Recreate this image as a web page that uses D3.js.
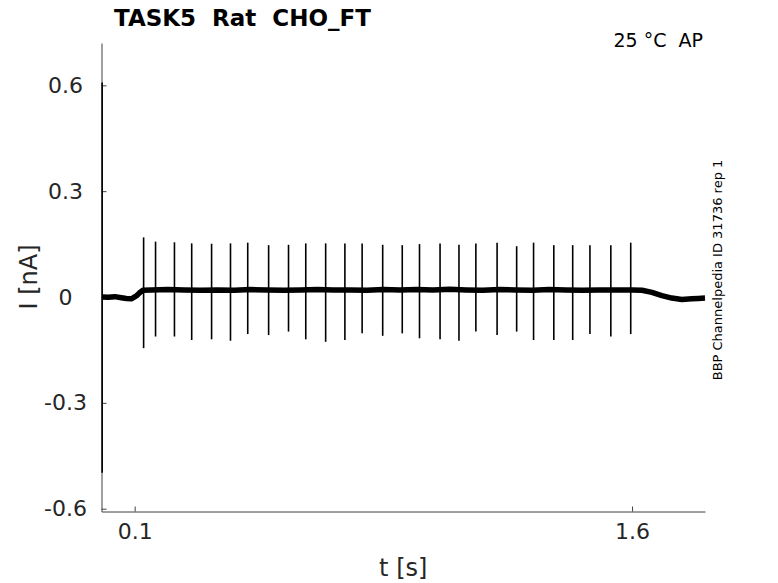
<!DOCTYPE html>
<html>
<head>
<meta charset="utf-8">
<script src="https://cdn.jsdelivr.net/npm/d3@7"></script>
<style>
  body { margin: 0; background: #fff; }
  svg { display: block; font-family: 'DejaVu Sans', sans-serif; }
  .axis path, .axis line { stroke: #404040; stroke-width: 1; }
  .axis text { fill: #262626; font-size: 22px; font-family: 'DejaVu Sans', sans-serif; }
</style>
</head>
<body>
<script>
// sample readings of the holding current (noisy band)
const baseT = [0.003, 0.02, 0.04, 0.06, 0.075, 0.09, 0.105, 0.115, 0.125, 0.15, 0.2, 0.25, 0.3, 0.35, 0.4,
  0.45, 0.5, 0.55, 0.6, 0.65, 0.7, 0.75, 0.8, 0.85, 0.9, 0.95, 1.0, 1.05, 1.1, 1.15, 1.2, 1.25, 1.3,
  1.35, 1.4, 1.45, 1.5, 1.55, 1.6, 1.63, 1.66, 1.69, 1.72, 1.75, 1.78, 1.8, 1.82]
const baseV = [0.0, -0.001, 0.001, -0.002, -0.004, -0.005, 0.003, 0.012, 0.019, 0.02, 0.021, 0.02, 0.019,
  0.02, 0.019, 0.021, 0.02, 0.019, 0.02, 0.021, 0.02, 0.02, 0.019, 0.021, 0.02, 0.021, 0.02, 0.022, 0.02,
  0.019, 0.021, 0.02, 0.019, 0.021, 0.02, 0.019, 0.02, 0.02, 0.02, 0.019, 0.013, 0.004, -0.003, -0.007,
  -0.005, -0.004, -0.003]

// action current spikes: time, peak and trough
const spikeT = [0.127, 0.163, 0.220, 0.272, 0.332, 0.389, 0.441, 0.504, 0.564, 0.616, 0.676, 0.734, 0.786,
  0.848, 0.907, 0.959, 1.021, 1.078, 1.129, 1.193, 1.252, 1.303, 1.364, 1.421, 1.473, 1.536, 1.596]
const spikePeak = [0.169, 0.157, 0.155, 0.152, 0.151, 0.152, 0.154, 0.147, 0.148, 0.152, 0.152, 0.152, 0.152,
  0.148, 0.147, 0.150, 0.152, 0.148, 0.152, 0.154, 0.144, 0.154, 0.147, 0.147, 0.147, 0.147, 0.154]
const spikeTrough = [-0.145, -0.112, -0.112, -0.122, -0.120, -0.124, -0.105, -0.108, -0.098, -0.120, -0.127,
  -0.122, -0.103, -0.110, -0.103, -0.117, -0.120, -0.124, -0.098, -0.108, -0.098, -0.122, -0.122, -0.122,
  -0.105, -0.112, -0.105]

// capacitive transient at the very start
const transientT = [0.002]
const transientPeak = [0.608]
const transientTrough = [-0.498]

const xTicks = [0.1, 1.6]
const yTicks = [-0.6, -0.3, 0, 0.3, 0.6]

const W = 778, H = 583
const margin = {top: 43, left: 101.5, right: 73, bottom: 71.5}
const width = W - margin.left - margin.right
const height = H - margin.top - margin.bottom

const svg = d3.select('body').append('svg')
  .attr('width', W)
  .attr('height', H)

const g = svg.append('g')
  .attr('transform', `translate(${margin.left},${margin.top})`)

const x = d3.scaleLinear().domain([0, 1.82]).range([0, width])
const y = d3.scaleLinear().domain([-0.608, 0.72]).range([height, 0])

// axes, ticks pointing inward
const xAxis = d3.axisBottom(x).tickValues(xTicks).tickSizeInner(-5).tickSizeOuter(0)
  .tickPadding(12).tickFormat(d => String(d))
const yAxis = d3.axisLeft(y).tickValues(yTicks).tickSizeInner(-5).tickSizeOuter(0)
  .tickPadding(16).tickFormat(d => String(d))

g.append('g').attr('class', 'x axis')
  .attr('transform', `translate(0,${height})`)
  .call(xAxis)

const gy = g.append('g').attr('class', 'y axis').call(yAxis)
gy.selectAll('text').attr('text-anchor', 'middle').attr('x', -36)

// trace
const base = baseT.map((t, i) => ({t: t, v: baseV[i]}))
g.append('path')
  .datum(base)
  .attr('fill', 'none')
  .attr('stroke', '#000')
  .attr('stroke-width', 5.5)
  .attr('stroke-linejoin', 'round')
  .attr('d', d3.line().x(d => x(d.t)).y(d => y(d.v)))

const spikes = spikeT.map((t, i) => ({t: t, hi: spikePeak[i], lo: spikeTrough[i]}))
  .concat(transientT.map((t, i) => ({t: t, hi: transientPeak[i], lo: transientTrough[i]})))
g.selectAll('line.spike').data(spikes).join('line')
  .attr('class', 'spike')
  .attr('x1', d => x(d.t)).attr('x2', d => x(d.t))
  .attr('y1', d => y(d.hi)).attr('y2', d => y(d.lo))
  .attr('stroke', '#000')
  .attr('stroke-width', 1.6)

// labels
svg.append('text')
  .attr('x', 114).attr('y', 26)
  .attr('font-size', 23).attr('font-weight', 'bold')
  .style('white-space', 'pre')
  .text('TASK5  Rat  CHO_FT')

svg.append('text')
  .attr('x', 703).attr('y', 47)
  .attr('text-anchor', 'end')
  .attr('font-size', 19)
  .style('white-space', 'pre')
  .text('25 °C  AP')

svg.append('text')
  .attr('transform', 'translate(722,270) rotate(-90)')
  .attr('text-anchor', 'middle')
  .attr('font-size', 13)
  .text('BBP Channelpedia ID 31736 rep 1')

svg.append('text')
  .attr('transform', 'translate(37,277) rotate(-90)')
  .attr('text-anchor', 'middle')
  .attr('font-size', 24)
  .attr('fill', '#262626')
  .text('I [nA]')

svg.append('text')
  .attr('x', margin.left + x(1.82) / 2).attr('y', 576)
  .attr('text-anchor', 'middle')
  .attr('font-size', 24)
  .attr('fill', '#262626')
  .text('t [s]')
</script>
</body>
</html>
